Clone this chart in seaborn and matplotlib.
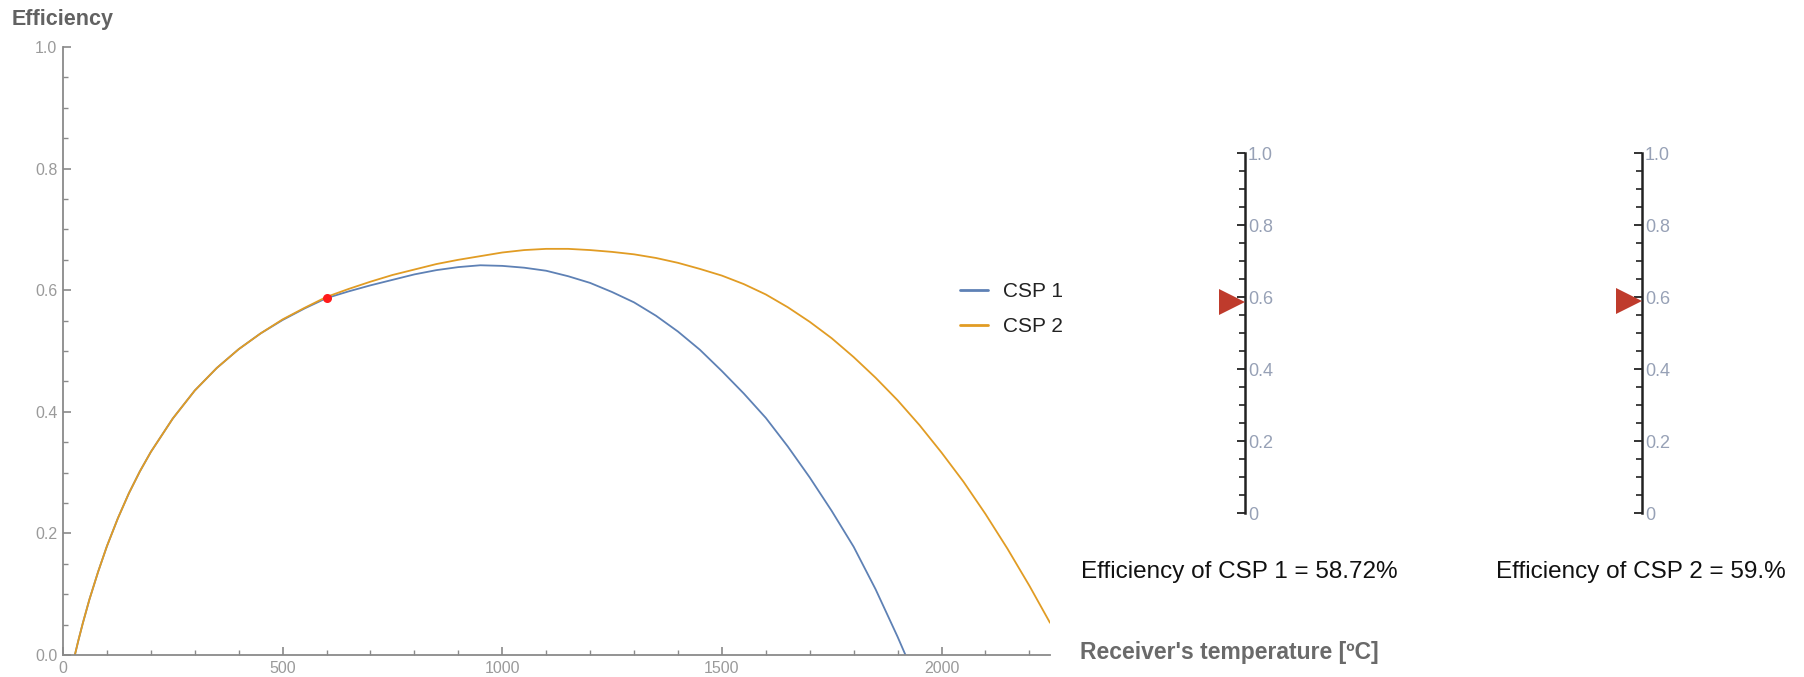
import numpy as np
import pandas as pd
import matplotlib
matplotlib.use("Agg")
import matplotlib.pyplot as plt
from matplotlib.ticker import MultipleLocator, FixedLocator, FixedFormatter
import seaborn as sns

# Receiver temperature grid [degC] and efficiency of each plant
temps_low = [27, 35, 45, 60, 80, 100, 125, 150, 175, 200, 250, 300, 350, 400, 450, 500, 550]
eff_low_csp1 = [0.0, 0.024, 0.052, 0.091, 0.137, 0.179, 0.225, 0.266, 0.302, 0.334, 0.389,
                0.435, 0.472, 0.503, 0.529, 0.551, 0.570]
eff_low_csp2 = [0.0, 0.024, 0.052, 0.091, 0.137, 0.179, 0.225, 0.266, 0.302, 0.334, 0.389,
                0.435, 0.472, 0.503, 0.529, 0.552, 0.571]

temps_high_csp1 = [600, 650, 700, 750, 800, 850, 900, 950, 1000, 1050, 1100, 1150, 1200,
                   1250, 1300, 1350, 1400, 1450, 1500, 1550, 1600, 1650, 1700, 1750,
                   1800, 1850, 1900, 1918]
eff_high_csp1 = [0.587, 0.598, 0.608, 0.617, 0.626, 0.633, 0.638, 0.641, 0.640, 0.637,
                 0.632, 0.623, 0.612, 0.597, 0.580, 0.558, 0.532, 0.502, 0.467, 0.430,
                 0.390, 0.343, 0.292, 0.237, 0.178, 0.108, 0.030, 0.0]

temps_high_csp2 = [600, 650, 700, 750, 800, 850, 900, 950, 1000, 1050, 1100, 1150, 1200,
                   1250, 1300, 1350, 1400, 1450, 1500, 1550, 1600, 1650, 1700, 1750,
                   1800, 1850, 1900, 1950, 2000, 2050, 2100, 2150, 2200, 2247]
eff_high_csp2 = [0.589, 0.602, 0.614, 0.625, 0.634, 0.643, 0.650, 0.656, 0.662, 0.666,
                 0.668, 0.668, 0.666, 0.663, 0.659, 0.653, 0.645, 0.635, 0.624, 0.610,
                 0.593, 0.572, 0.548, 0.521, 0.490, 0.456, 0.419, 0.378, 0.333, 0.285,
                 0.232, 0.175, 0.114, 0.053]

series_names = ["CSP 1", "CSP 2"]
series_colors = ["#5e81b5", "#e19c24"]

# Current operating point and gauge readings
receiver_temp = 600
gauge_values = [0.5872, 0.59]

x_major = [0, 500, 1000, 1500, 2000]
y_major = [0.0, 0.2, 0.4, 0.6, 0.8, 1.0]
gauge_ticks = [0.0, 0.2, 0.4, 0.6, 0.8, 1.0]
gauge_tick_labels = ["0", "0.2", "0.4", "0.6", "0.8", "1.0"]

df = pd.concat([
    pd.DataFrame({"T": temps_low + temps_high_csp1, "eff": eff_low_csp1 + eff_high_csp1,
                  "plant": series_names[0]}),
    pd.DataFrame({"T": temps_low + temps_high_csp2, "eff": eff_low_csp2 + eff_high_csp2,
                  "plant": series_names[1]}),
], ignore_index=True)

sns.set_theme(style="white")
plt.rcParams["font.family"] = ["Liberation Sans", "DejaVu Sans"]

W, H, DPI = 1804, 677, 100
fig = plt.figure(figsize=(W / DPI, H / DPI), dpi=DPI)
fig.patch.set_facecolor("white")


def fx(px):
    return px / W


def fy(py):
    return 1 - py / H


# ---- main efficiency plot ----
ax_left, ax_right, ax_top, ax_bottom = 63, 1050, 47, 655
ax = fig.add_axes([fx(ax_left), fy(ax_bottom), fx(ax_right - ax_left), (ax_bottom - ax_top) / H])
sns.lineplot(data=df, x="T", y="eff", hue="plant", palette=series_colors, sort=False,
             estimator=None, linewidth=1.3, ax=ax, legend=False)
ax.plot([receiver_temp], [gauge_values[0]], "o", color="#ff1a1a", markersize=6.5,
        markeredgewidth=0, zorder=5)

ax.set_xlim(0, 2247)
ax.set_ylim(0, 1.0)
ax.set_xlabel("")
ax.set_ylabel("")
axis_grey = "#8a8a8a"
for side in ["top", "right"]:
    ax.spines[side].set_visible(False)
for side in ["left", "bottom"]:
    ax.spines[side].set_color(axis_grey)
    ax.spines[side].set_linewidth(1.3)
ax.xaxis.set_major_locator(FixedLocator(x_major))
ax.xaxis.set_major_formatter(FixedFormatter([str(v) for v in x_major]))
ax.xaxis.set_minor_locator(MultipleLocator(100))
ax.yaxis.set_major_locator(FixedLocator(y_major))
ax.yaxis.set_major_formatter(FixedFormatter([f"{v:.1f}" for v in y_major]))
ax.yaxis.set_minor_locator(MultipleLocator(0.05))
ax.tick_params(which="both", direction="in", color=axis_grey, labelcolor="#9a9a9a",
               labelsize=11.5, bottom=True, left=True)
ax.tick_params(which="major", length=6, width=1.2, pad=4)
ax.tick_params(which="minor", length=3.5, width=1.0)
ax.set_facecolor("white")
ax.grid(False)

fig.text(fx(12), fy(20), "Efficiency", fontsize=15.5, fontweight="bold", color="#626262",
         ha="left", va="center")
fig.text(fx(1080), fy(653), "Receiver's temperature [ºC]", fontsize=16.5, fontweight="bold",
         color="#6a6a6a", ha="left", va="center")

# legend
handles = [plt.Line2D([], [], color=c, linewidth=2.0) for c in series_colors]
fig.legend(handles, series_names, loc="center left", bbox_to_anchor=(fx(960), fy(309)),
           frameon=False, fontsize=15, handlelength=1.35, handletextpad=0.7,
           labelspacing=0.75, borderpad=0, borderaxespad=0, labelcolor="#222222")

# ---- gauges ----
gauge_spines = [1245, 1642]
g_top, g_bottom = 153, 513
g_width = 34
marker_pt = 19
for xs, val in zip(gauge_spines, gauge_values):
    g = fig.add_axes([fx(xs - g_width), fy(g_bottom), fx(g_width), (g_bottom - g_top) / H])
    g.set_facecolor("none")
    g.set_xlim(0, 1)
    g.set_ylim(0, 1)
    for side in ["top", "left", "bottom"]:
        g.spines[side].set_visible(False)
    g.spines["right"].set_color("#222222")
    g.spines["right"].set_linewidth(1.8)
    g.xaxis.set_visible(False)
    g.yaxis.tick_right()
    g.yaxis.set_major_locator(FixedLocator(gauge_ticks))
    g.yaxis.set_major_formatter(FixedFormatter(gauge_tick_labels))
    g.yaxis.set_minor_locator(MultipleLocator(0.05))
    g.tick_params(axis="y", which="both", direction="in", color="#222222",
                  labelcolor="#97a1b6", labelsize=13, pad=2)
    g.tick_params(axis="y", which="major", length=6, width=1.3)
    g.tick_params(axis="y", which="minor", length=4, width=1.2)
    ms_px = marker_pt * DPI / 72
    g.plot([1 - (ms_px / 2) / g_width], [val], marker=">", markersize=marker_pt,
           color="#bf3b2c", markeredgewidth=0, linestyle="none", clip_on=False, zorder=5)
    g.grid(False)

# efficiency readouts
readout_x = [1081, 1496]
for i, (xt, val) in enumerate(zip(readout_x, gauge_values)):
    pct = f"{val * 100:.2f}".rstrip("0")
    fig.text(fx(xt), fy(572), f"Efficiency of CSP {i + 1} = {pct}%", fontsize=17.5,
             color="#111111", ha="left", va="center")

fig.savefig("out.png", dpi=DPI, facecolor="white")
